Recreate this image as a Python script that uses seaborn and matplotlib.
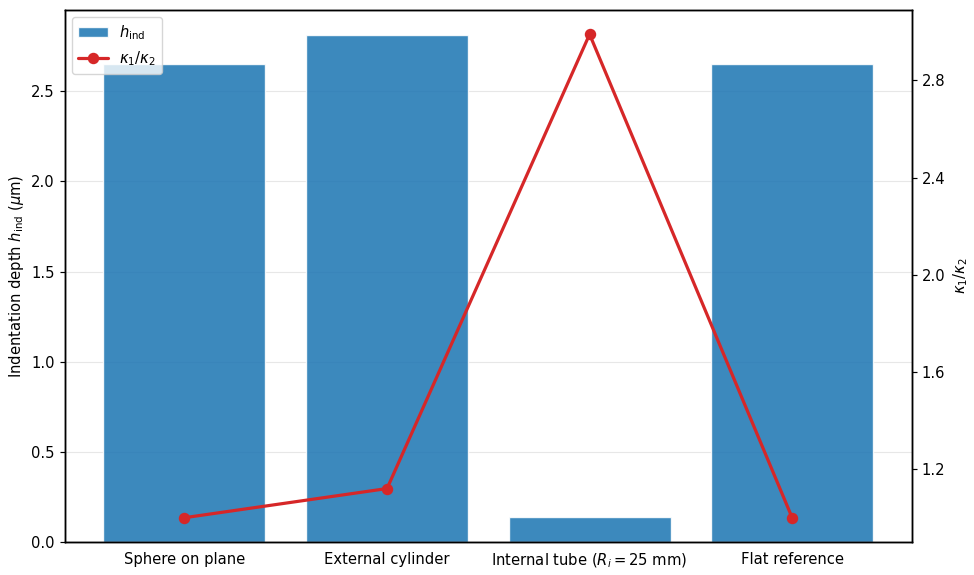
import numpy as np
import matplotlib
matplotlib.use("Agg")
import matplotlib.pyplot as plt
import seaborn as sns

# data
cases = ["Sphere on plane", "External cylinder", "Internal tube ($R_i = 25$ mm)", "Flat reference"]
h_ind = [2.65, 2.81, 0.138, 2.65]
kappa_ratio = [1.0, 1.12, 2.99, 1.0]

sns.set_style("white")
plt.rcParams["font.family"] = ["DejaVu Sans"]
plt.rcParams["text.color"] = "black"
plt.rcParams["axes.labelcolor"] = "black"
plt.rcParams["xtick.color"] = "black"
plt.rcParams["ytick.color"] = "black"

FS = 10.6

fig, ax = plt.subplots(figsize=(9.74, 5.75), dpi=100)
sns.barplot(x=cases, y=h_ind, ax=ax, color="#1f77b4", alpha=0.87, width=0.8,
            saturation=1, label=r"$h_{\mathrm{ind}}$")
ax.set_xlim(-0.59, len(cases) - 1 + 0.59)
ax.set_ylabel(r"Indentation depth $h_{\mathrm{ind}}$ ($\mu$m)", fontsize=FS)
ax.grid(axis="y", color="#b0b0b0", alpha=0.3, linewidth=0.8)
ax.set_axisbelow(True)

ax2 = ax.twinx()
sns.pointplot(x=cases, y=kappa_ratio, ax=ax2, color="#d62728", markers="o",
              markersize=6.5, linewidth=2.3, label=r"$\kappa_1/\kappa_2$")
ax2.set_xlim(-0.59, len(cases) - 1 + 0.59)
ax2.set_ylabel(r"$\kappa_1/\kappa_2$", fontsize=FS)
ax2.set_yticks([1.2, 1.6, 2.0, 2.4, 2.8])
ax2.set_ylim(0.9, 3.09)

for a in (ax, ax2):
    for s in a.spines.values():
        s.set_color("black")
        s.set_linewidth(1.05)
    a.tick_params(axis="both", direction="out", length=3.7, width=0.85, labelsize=FS)

h1, l1 = ax.get_legend_handles_labels()
h2, l2 = ax2.get_legend_handles_labels()
if ax2.get_legend() is not None:
    ax2.get_legend().remove()
ax.legend(h1 + h2, l1 + l2, loc="upper left", fontsize=FS)

fig.subplots_adjust(left=0.0667, right=0.936, top=0.9826, bottom=0.0574)
fig.savefig("out.png", dpi=100)
